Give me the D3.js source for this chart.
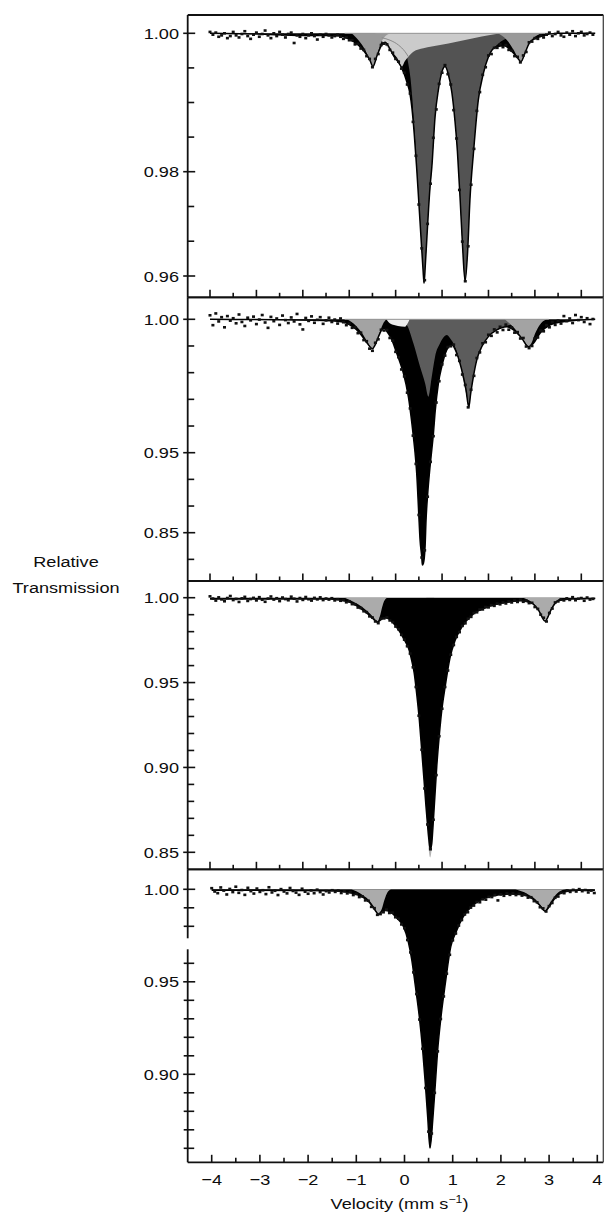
<!DOCTYPE html>
<html><head><meta charset="utf-8">
<script src="https://cdn.jsdelivr.net/npm/d3@7/dist/d3.min.js"></script>
<style>
body{margin:0;background:#fff}
text{font-family:"Liberation Sans",Arial,Helvetica,sans-serif;fill:#0d0d0d;font-size:15.5px}
</style></head>
<body><svg id="chart" width="607" height="1214"></svg>
<script>
// ---------- axis ticks ----------
const xMajorTicks = [-4,-3,-2,-1,0,1,2,3,4];
const xMinorTicks = [-3.5,-2.5,-1.5,-0.5,0.5,1.5,2.5,3.5];
const xTickLabels = ["\u22124","\u22123","\u22122","\u22121","0","1","2","3","4"];
const p1YLabels = [1.00,0.98,0.96];
const p1YMinor  = [0.995,0.99,0.985,0.97333,0.96667];
const p2YLabels = [1.00,0.95,0.85];
const p2YMinor  = [0.99,0.98,0.97,0.96,0.91667,0.88333,0.81667];
const p3YLabels = [1.00,0.95,0.90,0.85];
const p3YMinor  = [0.99,0.98,0.97,0.96,0.94,0.93,0.92,0.91,0.89,0.88,0.87,0.86];
const p4YLabels = [1.00,0.95,0.90];
const p4YMinor  = [0.99,0.98,0.96,0.94,0.93,0.92,0.91,0.89,0.88,0.87,0.86];

// velocity channels of the measured points
const velocityStart = -4, velocityStep = 0.0625;

// ---------- measured relative transmission (one value per channel) ----------
const p1Data = [1.0002,0.9998,1.0001,0.9995,0.9997,1.0000,0.9993,0.9996,1.0002,0.9997,0.9994,0.9999,1.0003,0.9996,0.9992,0.9998,
1.0001,0.9995,0.9999,1.0004,0.9997,0.9993,1.0000,0.9996,1.0002,0.9998,0.9994,0.9999,1.0001,0.9986,0.9997,0.9995,
0.9999,0.9993,0.9997,1.0000,0.9996,0.9991,0.9998,0.9995,0.9999,0.9997,0.9994,0.9996,0.9998,0.9995,0.9992,0.9994,
0.9990,0.9990,0.9984,0.9985,0.9978,0.9976,0.9967,0.9963,0.9951,0.9963,0.9970,0.9983,0.9985,0.9984,0.9976,0.9972,
0.9963,0.9959,0.9949,0.9943,0.9926,0.9913,0.9872,0.9823,0.9737,0.9653,0.9592,0.9700,0.9777,0.9849,0.9890,0.9927,
0.9943,0.9954,0.9941,0.9926,0.9889,0.9848,0.9765,0.9666,0.9590,0.9657,0.9775,0.9833,0.9888,0.9915,0.9940,0.9951,
0.9968,0.9970,0.9979,0.9979,0.9984,0.9980,0.9983,0.9976,0.9975,0.9967,0.9966,0.9958,0.9968,0.9973,0.9987,0.9988,
0.9993,0.9992,0.9997,0.9994,0.9998,1.0001,0.9996,0.9999,1.0002,0.9997,0.9995,1.0001,0.9998,1.0003,0.9996,1.0000,
1.0002,0.9997,0.9999,1.0001,0.9998];
const p2Data = [1.0015,0.9978,1.0022,0.9992,1.0008,0.9970,1.0012,0.9995,1.0004,0.9985,1.0018,0.9990,0.9975,1.0006,0.9996,1.0010,
0.9982,0.9999,1.0016,0.9988,0.9968,1.0009,0.9993,1.0003,0.9979,1.0014,0.9997,0.9986,1.0007,0.9992,1.0020,0.9981,
0.9962,1.0005,0.9994,1.0011,0.9987,0.9998,1.0008,0.9983,0.9996,1.0006,0.9990,0.9999,0.9984,1.0003,0.9989,0.9978,
0.9984,0.9968,0.9970,0.9948,0.9950,0.9922,0.9918,0.9890,0.9882,0.9912,0.9925,0.9961,0.9958,0.9960,0.9930,0.9920,
0.9878,0.9858,0.9812,0.9786,0.9725,0.9666,0.9564,0.9360,0.8722,0.8190,0.8280,0.8950,0.9386,0.9562,0.9688,0.9768,
0.9831,0.9864,0.9896,0.9899,0.9905,0.9866,0.9844,0.9793,0.9754,0.9670,0.9736,0.9788,0.9855,0.9876,0.9910,0.9914,
0.9942,0.9938,0.9962,0.9951,0.9972,0.9960,0.9980,0.9961,0.9970,0.9950,0.9952,0.9928,0.9930,0.9898,0.9892,0.9900,
0.9928,0.9932,0.9958,0.9955,0.9978,0.9970,0.9990,0.9979,0.9995,0.9984,1.0012,0.9993,1.0003,0.9986,1.0016,0.9997,
1.0008,0.9990,1.0004,0.9982,1.0001];
const p3Data = [1.0008,0.9995,0.9983,1.0002,0.9990,0.9979,0.9998,1.0010,0.9986,0.9993,0.9975,0.9996,1.0005,0.9981,0.9992,0.9999,
0.9984,1.0003,0.9988,0.9976,0.9995,1.0007,0.9989,0.9997,0.9980,1.0001,0.9992,0.9985,1.0006,0.9994,0.9978,0.9998,
0.9987,1.0004,0.9991,0.9983,0.9999,0.9990,1.0002,0.9986,0.9995,0.9989,0.9997,0.9984,0.9991,0.9982,0.9986,0.9973,
0.9979,0.9962,0.9961,0.9942,0.9939,0.9920,0.9915,0.9890,0.9883,0.9860,0.9850,0.9876,0.9878,0.9884,0.9866,0.9856,
0.9830,0.9814,0.9781,0.9753,0.9714,0.9671,0.9590,0.9474,0.9305,0.9104,0.8876,0.8664,0.8518,0.8692,0.8955,0.9184,
0.9346,0.9474,0.9571,0.9664,0.9721,0.9769,0.9797,0.9834,0.9849,0.9876,0.9887,0.9910,0.9914,0.9930,0.9931,0.9945,
0.9943,0.9956,0.9952,0.9965,0.9961,0.9972,0.9966,0.9978,0.9972,0.9983,0.9975,0.9988,0.9976,0.9982,0.9968,0.9970,
0.9945,0.9934,0.9900,0.9882,0.9860,0.9910,0.9936,0.9972,0.9978,0.9990,0.9984,0.9996,0.9987,1.0003,0.9985,0.9994,
0.9998,0.9982,1.0001,0.9989,0.9993];
const p4Data = [1.0006,0.9988,0.9979,1.0010,0.9993,0.9972,1.0002,0.9985,1.0014,0.9981,0.9996,0.9970,1.0008,0.9990,0.9977,1.0004,
0.9986,0.9995,0.9974,1.0011,0.9983,0.9992,0.9969,1.0001,0.9988,0.9978,1.0007,0.9991,0.9982,0.9970,1.0003,0.9987,
0.9976,0.9994,0.9979,0.9998,0.9985,0.9972,0.9990,0.9983,0.9995,0.9986,0.9993,0.9980,0.9989,0.9978,0.9985,0.9969,
0.9975,0.9958,0.9962,0.9940,0.9938,0.9905,0.9898,0.9862,0.9866,0.9876,0.9890,0.9872,0.9874,0.9849,0.9841,0.9810,
0.9790,0.9726,0.9659,0.9551,0.9434,0.9296,0.9138,0.8926,0.8690,0.8680,0.8900,0.9124,0.9299,0.9421,0.9544,0.9646,
0.9724,0.9761,0.9804,0.9834,0.9864,0.9876,0.9901,0.9912,0.9931,0.9930,0.9946,0.9944,0.9959,0.9958,0.9969,0.9940,
0.9972,0.9965,0.9978,0.9970,0.9979,0.9969,0.9976,0.9966,0.9970,0.9955,0.9957,0.9936,0.9930,0.9903,0.9897,0.9880,
0.9909,0.9926,0.9954,0.9961,0.9981,0.9979,0.9994,0.9986,0.9997,0.9988,1.0001,0.9990,0.9996,0.9983,0.9993,0.9980];

// ---------- fitted curves, [velocity, transmission] ----------
const p1Envelope = [[-4.0,1.0],[-3.0,0.9999],[-2.0,0.9997],[-1.5,0.9997],[-1.2,0.9996],[-0.91,0.9988],[-0.70,0.9976],[-0.56,0.9962],[-0.49,0.9952],[-0.40,0.9968],[-0.30,0.9983],[-0.23,0.9987],[-0.12,0.9977],[-0.05,0.9968],[0.05,0.9959],[0.13,0.9950],[0.24,0.9930],[0.31,0.9912],[0.35,0.9892],[0.40,0.9855],[0.45,0.9808],[0.50,0.9740],[0.55,0.9668],[0.59,0.9612],[0.612,0.9586],[0.64,0.9622],[0.69,0.9700],[0.74,0.9770],[0.78,0.9807],[0.85,0.9880],[0.92,0.9918],[1.0,0.9945],[1.065,0.9952],[1.13,0.9942],[1.21,0.9915],[1.28,0.9872],[1.33,0.9830],[1.39,0.9746],[1.44,0.9660],[1.496,0.9590],[1.55,0.9645],[1.60,0.9745],[1.68,0.9830],[1.78,0.9903],[1.89,0.9942],[2.0,0.9966],[2.18,0.9981],[2.35,0.9982],[2.47,0.9976],[2.61,0.9966],[2.70,0.9959],[2.79,0.9972],[2.90,0.9988],[3.11,0.9995],[3.5,1.0],[4.3,1.0]];
const p1MainDoublet = [[-0.2,1.0],[0.1,0.9992],[0.2,0.9978],[0.27,0.9957],[0.32,0.9935],[0.36,0.9905],[0.40,0.9865],[0.45,0.9815],[0.50,0.9745],[0.55,0.9675],[0.59,0.9615],[0.612,0.9586],[0.65,0.9635],[0.70,0.9715],[0.78,0.9805],[0.85,0.9878],[0.92,0.9918],[1.0,0.9945],[1.065,0.9952],[1.13,0.9942],[1.21,0.9915],[1.28,0.9872],[1.34,0.9825],[1.39,0.9746],[1.44,0.9660],[1.496,0.9593],[1.55,0.9645],[1.60,0.9745],[1.68,0.9830],[1.78,0.9903],[1.89,0.9942],[2.0,0.9966],[2.2,0.9984],[2.5,0.9995],[2.9,1.0]];
const p1BroadDoublet = [[-0.45,1.0],[-0.35,0.9995],[-0.265,0.99855],[-0.121,0.9976],[0.059,0.99614],[0.131,0.99518],[0.20,0.9960],[0.274,0.99662],[0.382,0.99734],[0.597,0.99783],[0.957,0.99831],[1.316,0.99879],[1.675,0.99928],[2.034,0.99976],[2.3,1.0]];
const p1SmallLeft = [[-0.95,1.0],[-0.80,0.9990],[-0.65,0.9975],[-0.55,0.9960],[-0.49,0.9952],[-0.42,0.9963],[-0.35,0.9980],[-0.25,0.9994],[-0.1,1.0]];
const p1SmallRight = [[2.2,1.0],[2.4,0.9990],[2.55,0.9975],[2.65,0.9962],[2.70,0.9959],[2.76,0.9966],[2.85,0.9982],[3.0,0.9995],[3.2,1.0]];
const p1OutlineCurve = [[-0.30,0.99937],[-0.121,0.9990],[0.059,0.99831],[0.203,0.99734],[0.274,0.99662]];

const p2Envelope = [[-4.0,1.0],[-1.4,0.9995],[-1.13,0.9990],[-0.95,0.9975],[-0.77,0.9948],[-0.62,0.9912],[-0.50,0.9890],[-0.44,0.9905],[-0.37,0.9935],[-0.30,0.9960],[-0.24,0.9966],[-0.19,0.9955],[-0.10,0.9930],[0.023,0.9873],[0.10,0.9835],[0.167,0.9798],[0.274,0.9710],[0.346,0.9615],[0.382,0.9560],[0.418,0.9499],[0.454,0.9242],[0.497,0.8742],[0.526,0.8408],[0.562,0.8200],[0.576,0.8096],[0.598,0.8117],[0.634,0.8325],[0.655,0.8658],[0.691,0.8992],[0.727,0.9242],[0.763,0.9450],[0.813,0.9570],[0.849,0.9650],[0.921,0.9760],[0.993,0.9822],[1.101,0.9885],[1.209,0.9905],[1.316,0.9873],[1.424,0.9810],[1.517,0.9735],[1.575,0.9670],[1.618,0.9723],[1.675,0.9785],[1.747,0.9847],[1.855,0.9897],[1.998,0.9935],[2.18,0.9960],[2.39,0.9972],[2.54,0.9960],[2.717,0.9929],[2.86,0.98975],[2.97,0.9910],[3.11,0.99475],[3.33,0.9979],[3.61,0.9991],[4.3,1.0]];
const p2Doublet = [[-0.2,1.0],[0.10,0.9995],[0.20,0.9985],[0.239,0.9979],[0.382,0.9910],[0.526,0.9822],[0.634,0.9760],[0.705,0.9710],[0.778,0.9785],[0.849,0.9860],[0.957,0.9910],[1.101,0.9941],[1.172,0.9929],[1.28,0.9897],[1.388,0.9835],[1.474,0.9760],[1.532,0.9710],[1.575,0.9685],[1.618,0.9723],[1.675,0.9785],[1.747,0.9847],[1.855,0.9897],[1.998,0.9935],[2.18,0.9960],[2.39,0.9975],[2.7,0.9990],[3.2,1.0]];
const p2SmallLeft = [[-1.05,1.0],[-0.85,0.9975],[-0.70,0.9942],[-0.60,0.9912],[-0.50,0.9890],[-0.42,0.9912],[-0.35,0.9948],[-0.28,0.9980],[-0.2,1.0]];
const p2SmallRight = [[2.35,1.0],[2.55,0.9968],[2.70,0.9935],[2.80,0.9910],[2.86,0.9897],[2.93,0.9912],[3.0,0.9945],[3.1,0.9978],[3.25,1.0]];
const p2Sliver = [[-0.2,1.0],[-0.12,0.9984],[0.05,0.9975],[0.2,0.9972],[0.26,0.9985],[0.3,1.0]];

const p3Envelope = [[-4.0,0.9993],[-1.4,0.9993],[-1.0,0.9975],[-0.80,0.9945],[-0.60,0.9905],[-0.47,0.9872],[-0.39,0.9856],[-0.32,0.9870],[-0.25,0.9882],[-0.19,0.9880],[-0.10,0.9865],[-0.013,0.9838],[0.10,0.9795],[0.20,0.9745],[0.274,0.9705],[0.35,0.9625],[0.40,0.9555],[0.454,0.9432],[0.511,0.9278],[0.562,0.9100],[0.612,0.8923],[0.655,0.8766],[0.691,0.8648],[0.727,0.8550],[0.745,0.8518],[0.777,0.8550],[0.813,0.8688],[0.849,0.8845],[0.885,0.9002],[0.943,0.9198],[0.993,0.9335],[1.065,0.9473],[1.172,0.9647],[1.28,0.9748],[1.424,0.9826],[1.675,0.9905],[1.963,0.9944],[2.394,0.9973],[2.7,0.9982],[2.95,0.9965],[3.08,0.9925],[3.22,0.9862],[3.36,0.9935],[3.5,0.9982],[3.8,0.9993],[4.3,0.9995]];
const p3SmallLeft = [[-1.1,1.0],[-0.9,0.9975],[-0.72,0.9945],[-0.55,0.9905],[-0.45,0.9875],[-0.39,0.9860],[-0.34,0.9890],[-0.30,0.9935],[-0.26,0.9972],[-0.22,0.9992],[-0.18,1.0]];
const p3SmallRight = [[2.75,1.0],[2.95,0.9970],[3.08,0.9930],[3.17,0.9885],[3.22,0.9865],[3.28,0.9892],[3.36,0.9942],[3.48,0.9985],[3.6,1.0]];
const p3SingletTip = [[0.66,0.875],[0.745,0.8470],[0.83,0.875]];

const p4Envelope = [[-4.0,0.9995],[-1.5,0.9992],[-1.1,0.9980],[-0.9,0.9962],[-0.75,0.9935],[-0.62,0.9890],[-0.54,0.9865],[-0.47,0.9880],[-0.40,0.9885],[-0.30,0.9878],[-0.16,0.9845],[-0.025,0.9800],[0.08,0.9715],[0.15,0.9620],[0.218,0.9491],[0.308,0.9310],[0.377,0.9130],[0.432,0.8949],[0.481,0.8769],[0.529,0.8601],[0.591,0.8769],[0.640,0.8949],[0.688,0.9130],[0.757,0.9310],[0.847,0.9491],[0.96,0.9690],[1.07,0.9770],[1.22,0.9852],[1.44,0.9918],[1.80,0.9963],[2.2,0.9975],[2.45,0.9970],[2.65,0.9950],[2.80,0.9915],[2.915,0.9882],[3.0,0.9905],[3.1,0.9945],[3.3,0.9985],[3.6,0.9995],[3.95,0.9995]];
const p4SmallLeft = [[-1.1,1.0],[-0.9,0.9975],[-0.75,0.9945],[-0.62,0.9900],[-0.54,0.9868],[-0.47,0.9895],[-0.42,0.9940],[-0.37,0.9975],[-0.32,0.9993],[-0.28,1.0]];
const p4SmallRight = [[2.3,1.0],[2.55,0.9975],[2.72,0.9945],[2.85,0.9905],[2.915,0.9885],[2.98,0.9910],[3.08,0.9950],[3.2,0.9985],[3.35,1.0]];

// ---------- layout ----------
const FL = 187.7, FR = 603.3;
const panels = [
  {top:15, bottom:297.3, xr:[210,581.3], yd:[1,0.98,0.96], yr:[33.3,171.7,276],
   data:p1Data, env:p1Envelope, labels:p1YLabels, minor:p1YMinor, under:[],
   fills:[{pts:p1MainDoublet,c:"#535353"},{pts:p1BroadDoublet,c:"#cbcbcb"},{pts:p1SmallLeft,c:"#9a9a9a"},{pts:p1SmallRight,c:"#9a9a9a"}],
   lines:[{pts:p1OutlineCurve,c:"#8a8a8a"}], base:[-1.1,3.3]},
  {top:297.3, bottom:581, xr:[210,581.3], yd:[1,0.95,0.85], yr:[319.3,452.7,532.7],
   data:p2Data, env:p2Envelope, labels:p2YLabels, minor:p2YMinor, under:[],
   fills:[{pts:p2Doublet,c:"#5c5c5c"},{pts:p2SmallLeft,c:"#a3a3a3"},{pts:p2SmallRight,c:"#a3a3a3"},{pts:p2Sliver,c:"#ececec"}],
   lines:[], base:[-1.1,3.3]},
  {top:581, bottom:869.3, xr:[210,581.3], yd:[1,0.85], yr:[597.7,852.3],
   data:p3Data, env:p3Envelope, labels:p3YLabels, minor:p3YMinor, under:[{pts:p3SingletTip,c:"#b5b5b5"}],
   fills:[{pts:p3SmallLeft,c:"#ababab"},{pts:p3SmallRight,c:"#ababab"}],
   lines:[], base:null},
  {top:869.3, bottom:1162.3, xr:[211.7,597.3], yd:[1,0.9], yr:[889.3,1074.3],
   data:p4Data, env:p4Envelope, labels:p4YLabels, minor:p4YMinor, under:[],
   fills:[{pts:p4SmallLeft,c:"#ababab"},{pts:p4SmallRight,c:"#ababab"}],
   lines:[], base:null, gap:[938.3,949.3], xLabels:true, crossTicks:true}
];

const svg = d3.select("#chart");
const defs = svg.append("defs");
const fmt = d3.format(".2f");
const SX = 1.17; // horizontal stretch of the lettering

panels.forEach((p,k)=>{
  const x = d3.scaleLinear().domain([-4,4]).range(p.xr);
  const y = d3.scaleLinear().domain(p.yd).range(p.yr);
  defs.append("clipPath").attr("id","clip"+k).append("rect")
    .attr("x",FL).attr("y",p.top).attr("width",FR-FL).attr("height",p.bottom-p.top);
  const plot = svg.append("g").attr("clip-path",`url(#clip${k})`);
  const area = d3.area().x(d=>x(d[0])).y0(y(1)).y1(d=>y(d[1])).curve(d3.curveMonotoneX);
  const line = d3.line().x(d=>x(d[0])).y(d=>y(d[1])).curve(d3.curveMonotoneX);

  p.under.forEach(c=>plot.append("path").attr("d",area(c.pts)).attr("fill",c.c));
  plot.append("path").attr("d",area(p.env)).attr("fill","#000");
  p.fills.forEach(c=>plot.append("path").attr("d",area(c.pts)).attr("fill",c.c));
  p.lines.forEach(c=>plot.append("path").attr("d",line(c.pts)).attr("fill","none").attr("stroke",c.c).attr("stroke-width",1));
  if(p.base) plot.append("line").attr("x1",x(p.base[0])).attr("x2",x(p.base[1]))
      .attr("y1",y(1)).attr("y2",y(1)).attr("stroke","#9c9c9c").attr("stroke-width",1);

  plot.append("path").attr("d",line(p.env)).attr("fill","none").attr("stroke","#000").attr("stroke-width",1.5);
  plot.append("g").selectAll("rect").data(p.data).join("rect")
    .attr("x",(d,i)=>x(velocityStart+i*velocityStep)-1.5)
    .attr("y",d=>y(d)-1.3).attr("width",3).attr("height",2.6).attr("fill","#111");

  // frame
  const fr = svg.append("g").attr("stroke","#111").attr("stroke-width",1.8).attr("fill","none");
  fr.append("line").attr("x1",FL).attr("x2",FR).attr("y1",p.top).attr("y2",p.top);
  fr.append("line").attr("x1",FL).attr("x2",FR).attr("y1",p.bottom).attr("y2",p.bottom);
  fr.append("line").attr("x1",FR).attr("x2",FR).attr("y1",p.top).attr("y2",p.bottom).attr("stroke","#444").attr("stroke-width",1.3);
  if(p.gap){
    fr.append("line").attr("x1",FL).attr("x2",FL).attr("y1",p.top).attr("y2",p.gap[0]);
    fr.append("line").attr("x1",FL).attr("x2",FL).attr("y1",p.gap[1]).attr("y2",p.bottom);
  } else {
    fr.append("line").attr("x1",FL).attr("x2",FL).attr("y1",p.top).attr("y2",p.bottom);
  }

  // x ticks (pointing up from the bottom edge)
  const tk = svg.append("g").attr("stroke","#111").attr("stroke-width",1.6);
  xMajorTicks.forEach(v=>tk.append("line").attr("x1",x(v)).attr("x2",x(v)).attr("y1",p.bottom).attr("y2",p.bottom-7.5));
  xMinorTicks.forEach(v=>tk.append("line").attr("x1",x(v)).attr("x2",x(v)).attr("y1",p.bottom).attr("y2",p.bottom-4.5));
  // y ticks
  p.labels.forEach(v=>tk.append("line").attr("x1",FL-4.5).attr("x2",FL+7.5).attr("y1",y(v)).attr("y2",y(v)));
  p.minor.forEach(v=>tk.append("line").attr("x1",p.crossTicks?FL-4:FL).attr("x2",FL+6.5).attr("y1",y(v)).attr("y2",y(v)));
  p.labels.forEach(v=>svg.append("text").attr("text-anchor","end")
    .attr("transform",`translate(179,${y(v)+5.5}) scale(${SX},1)`).text(fmt(v)));

  if(p.xLabels){
    xMajorTicks.forEach((v,i)=>svg.append("text").attr("text-anchor","middle")
      .attr("transform",`translate(${x(v)},1184.5) scale(${SX},1)`).text(xTickLabels[i]));
  }
});

// axis titles
const yt = svg.append("g").attr("text-anchor","middle");
yt.append("text").attr("transform",`translate(66,566.5) scale(${SX},1)`).text("Relative");
yt.append("text").attr("transform",`translate(66,592.5) scale(${SX},1)`).text("Transmission");
const xt = svg.append("text").attr("text-anchor","middle").attr("transform",`translate(399.5,1209) scale(${SX},1)`);
xt.append("tspan").text("Velocity (mm s");
xt.append("tspan").attr("font-size","10.5px").attr("dy",-6).text("\u22121");
xt.append("tspan").attr("dy",6).text(")");
</script></body></html>
